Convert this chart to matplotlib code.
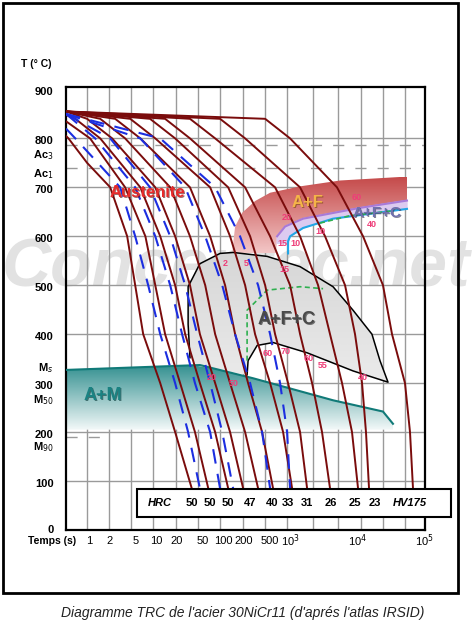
import matplotlib
matplotlib.use("Agg")
import matplotlib.pyplot as plt
import numpy as np
from matplotlib.patches import Polygon, Rectangle

plt.rcParams['font.family'] = ['Liberation Sans', 'DejaVu Sans']

# ---------------- data ----------------
red_curves = [
    ([0.45, 0.49, 0.93, 2.06, 3.69, 4.86, 6.4, 11.5, 19.2, 34], [805, 800, 750, 700, 600, 500, 400, 300, 200, 85]),
    ([0.45, 1.03, 3.44, 6.9, 9.7, 13.6, 22.8, 38, 60], [835, 800, 700, 600, 500, 400, 300, 200, 85]),
    ([0.45, 0.62, 1.46, 5.8, 11.5, 19.2, 27.1, 45, 76, 119], [848, 840, 800, 700, 600, 500, 400, 300, 200, 85]),
    ([0.45, 0.93, 2.2, 9.7, 19.2, 32, 45, 76, 127, 199], [855, 840, 800, 700, 600, 500, 400, 300, 200, 85]),
    ([0.45, 1.46, 3.44, 16.2, 32, 54, 76, 127, 213, 333], [855, 840, 800, 700, 600, 500, 400, 300, 200, 85]),
    ([0.45, 2.44, 5.8, 32, 64, 107, 151, 236, 382, 557], [855, 840, 800, 700, 600, 500, 400, 300, 200, 85]),
    ([0.45, 4.1, 9.7, 64, 127, 213, 300, 503, 787, 1072], [855, 840, 800, 700, 600, 500, 400, 300, 200, 85]),
    ([0.45, 8.1, 19.2, 119, 253, 424, 597, 933, 1410, 1795], [855, 840, 800, 700, 600, 500, 400, 300, 200, 85]),
    ([0.45, 13.6, 32, 213, 503, 1000, 1410, 2130, 3000, 3950], [855, 840, 800, 700, 600, 500, 400, 300, 200, 85]),
    ([0.45, 32, 76, 597, 1410, 2620, 3950, 5970, 8410, 10350], [855, 840, 800, 700, 600, 500, 400, 300, 200, 85]),
    ([0.45, 90, 213, 1410, 3330, 6620, 9330, 11880, 13600, 15100], [855, 840, 800, 700, 600, 500, 400, 300, 200, 85]),
    ([0.45, 424, 1000, 5020, 12300, 24400, 33300, 52000, 61800, 68500], [855, 840, 800, 700, 600, 500, 400, 300, 200, 85]),
]
blue_curves = [
    ([0.45, 0.62, 2.9, 4.86, 7.6, 11.5, 19.2, 30, 45], [820, 800, 700, 600, 500, 400, 300, 200, 85]),
    ([0.45, 1.23, 4.86, 9.7, 16.2, 24.4, 38, 64, 90], [850, 800, 700, 600, 500, 400, 300, 200, 85]),
    ([0.45, 2.06, 8.1, 16.2, 27.1, 41, 64, 97, 141], [850, 800, 700, 600, 500, 400, 300, 200, 85]),
    ([0.45, 5.8, 27.1, 54, 97, 151, 253, 382, 503], [850, 800, 700, 600, 500, 400, 300, 200, 85]),
    ([0.45, 11.5, 76, 179, 333, 503, 709, 902, 1000], [850, 800, 700, 600, 500, 400, 300, 200, 85]),
]

af_t = [136, 151, 192, 300, 503, 1410, 5600, 55700, 55700, 11000, 1563, 842, 640, 620]
af_T = [565, 620, 648, 672, 689, 702, 714, 722, 673, 658, 636, 620, 600, 565]
afc_top_t = [640, 842, 1563, 11000, 55700]
afc_top_T = [600, 620, 636, 658, 673]
cyan_t = [933, 933, 1000, 1563, 4380, 55700]
cyan_T = [565, 590, 600, 617, 636, 656]
green_up_t = [2800, 7800, 34400]
green_up_T = [627, 642, 652]
green_lo_t = [228, 228, 454, 1410, 3110]
green_lo_T = [346, 449, 490, 497, 493]
gray_t = [32, 30, 30, 45, 90, 141, 454, 1410, 4380, 8710, 16700, 22000, 29000,
          8710, 1795, 557, 322, 236, 228, 42]
gray_T = [352, 420, 497, 544, 565, 567, 559, 538, 497, 449, 400, 346, 302,
          325, 362, 383, 377, 346, 317, 335]
ms_t = [0.45, 45, 280, 4380, 24400, 34400]
ms_T = [327, 337, 310, 265, 242, 217]

grid_t = [0.93, 1.99, 4.24, 9.0, 19.9, 42, 90, 199, 424, 902, 2200, 5200, 11400, 24400, 52000]
grid_T = [100, 200, 300, 400, 500, 600, 700, 800]
ytick_vals = [0, 100, 200, 300, 400, 500, 600, 700, 800, 900]
xtick_t = [1, 2, 5, 10, 20, 50, 100, 200, 500, 1000, 10000, 100000]
xtick_lab = ['1', '2', '5', '10', '20', '50', '100', '200', '500', r'10$^3$', r'10$^4$', r'10$^5$']
ac3, ac1 = 787, 739
ms_lab, m50_lab, m90_lab = 331, 265, 169

hard_t = [34, 64, 119, 253, 538, 933, 1795, 4090, 9330, 18600]
hard_v = ['50', '50', '50', '47', '40', '33', '31', '26', '25', '23']

pink_labels = [("20", 900, 638), ("60", 10000, 679), ("40", 16600, 625), ("10", 2800, 609),
               ("15", 780, 586), ("10", 1200, 586), ("2", 107, 545), ("5", 220, 545),
               ("15", 820, 532), ("60", 470, 360), ("70", 870, 364), ("60", 1900, 350),
               ("55", 3100, 337), ("40", 12000, 311), ("20", 68, 311), ("50", 145, 300)]

# ---------------- figure ----------------
W, H = 474, 629
fig = plt.figure(figsize=(W / 100, H / 100), dpi=100)
fig.patch.set_facecolor('white')
fig.add_artist(Rectangle((3 / W, 1 - 593 / H), 455 / W, 590 / H, transform=fig.transFigure,
                         fill=False, ec='black', lw=2))

ax = fig.add_axes([66 / W, 1 - 530 / H, 359 / W, 443 / H])
ax.set_xscale('log')
ax.set_xlim(0.45, 1.035e5)
ax.set_ylim(0, 905)
ax.set_xticks([]); ax.set_yticks([])
ax.minorticks_off()
ax.patch.set_alpha(0)
for s in ax.spines.values():
    s.set_linewidth(1.6)

# watermark (behind the axes)
fig.text(236 / W, 1 - 268 / H, "Conceptec.net", fontsize=49, fontweight='bold', style='italic',
         color='#e2e2e2', ha='center', va='center', zorder=-5)
ax.set_zorder(1)

for t in grid_t:
    ax.axvline(t, color='#9a9a9a', lw=1, zorder=0)
for T in grid_T:
    ax.axhline(T, color='#9a9a9a', lw=1, zorder=0)
ax.axhline(ac3, color='#9a9a9a', lw=1, dashes=(8, 8), zorder=0)
ax.axhline(ac1, color='#9a9a9a', lw=1, dashes=(8, 8), zorder=0)
ax.plot([0.45, 1.5], [190, 190], color='#9a9a9a', lw=1, dashes=(8, 8), zorder=0)

def grad_fill(poly_t, poly_T, top_col, bot_col, y0, y1, z):
    poly = Polygon(list(zip(poly_t, poly_T)), closed=True, transform=ax.transData,
                   fc='none', ec='none')
    ax.add_patch(poly)
    c0 = np.array(matplotlib.colors.to_rgb(top_col))
    c1 = np.array(matplotlib.colors.to_rgb(bot_col))
    f = np.linspace(0, 1, 200)[:, None]
    img = (c0 * (1 - f) + c1 * f)[:, None, :]
    im = ax.imshow(img, extent=[0.45, 1.035e5, y0, y1], origin='upper', aspect='auto',
                   zorder=z, interpolation='bilinear')
    im.set_clip_path(poly)

am_t = ms_t + [ms_t[-1], 0.45]
am_T = ms_T + [205, 205]
grad_fill(am_t, am_T, '#2f8e8e', '#f2f8f8', 205, 340, 1)
ax.plot(ms_t, ms_T, color='#107a78', lw=1.5, zorder=3)

grad_fill(gray_t, gray_T, '#d6d6d6', '#ebebeb', 300, 570, 1)
ax.plot(gray_t[:19], gray_T[:19], color='black', lw=1.1, zorder=3)

grad_fill(af_t, af_T, '#c44848', '#f3c6c6', 565, 722, 1)
pur_t = afc_top_t + cyan_t[::-1][:4] + [933, 640]
pur_T = afc_top_T + cyan_T[::-1][:4] + [585, 586]
ax.fill(pur_t, pur_T, color='#dccaf0', zorder=1.5)
ax.plot(afc_top_t, afc_top_T, color='#a77ad8', lw=1.5, zorder=3)
ax.plot(cyan_t, cyan_T, color='#22a6e6', lw=1.5, zorder=3)
ax.plot(green_up_t, green_up_T, color='#2fb050', lw=1.2, ls=(0, (3, 2)), zorder=3)
ax.plot(green_lo_t, green_lo_T, color='#2fb050', lw=1.2, ls=(0, (3, 2)), zorder=3)

for t, T in red_curves:
    ax.plot(t, T, color='#7a0c0c', lw=1.4, zorder=4, solid_capstyle='round', solid_joinstyle='round')
for t, T in blue_curves:
    ax.plot(t, T, color='#1c2ee0', lw=1.5, ls=(0, (7, 5)), zorder=4)

def shadow_text(x, y, s, col, size, shadow='#5a1010'):
    ax.text(x, y, s, color=shadow, fontsize=size, fontweight='bold', ha='center', va='center',
            zorder=5, alpha=0.6,
            transform=ax.transData + matplotlib.transforms.ScaledTranslation(1 / 100, -1 / 100, fig.dpi_scale_trans))
    ax.text(x, y, s, color=col, fontsize=size, fontweight='bold', ha='center', va='center', zorder=6)

shadow_text(7.3, 690, "Austenite", '#e82a2a', 12)
shadow_text(1800, 669, "A+F", '#f5b448', 12, '#7a4a10')
shadow_text(20000, 648, "A+F+C", '#7070b0', 11, '#303050')
shadow_text(900, 431, "A+F+C", '#4a4a4a', 13, '#202020')
shadow_text(1.6, 275, "A+M", '#1a8282', 13, '#0a3a3a')
for s, t, T in pink_labels:
    ax.text(t, T, s, color='#ee3d78', fontsize=6.5, fontweight='bold', ha='center', va='center', zorder=6)

fig.add_artist(Rectangle((137 / W, 1 - 517 / H), 314 / W, 28 / H, transform=fig.transFigure,
                         fc='white', ec='black', lw=1.5, zorder=7))
bt = matplotlib.transforms.blended_transform_factory(ax.transData, fig.transFigure)
yb = 1 - 503 / H
fig.text(160 / W, yb, "HRC", fontsize=8, fontweight='bold', style='italic', ha='center', va='center', zorder=8)
for t, v in zip(hard_t, hard_v):
    fig.text(t, yb, v, transform=bt, fontsize=8, fontweight='bold', ha='center', va='center', zorder=8)
fig.text(410 / W, yb, "HV175", fontsize=8, fontweight='bold', style='italic', ha='center', va='center', zorder=8)

fig.text(36 / W, 1 - 64 / H, "T (° C)", fontsize=7.5, fontweight='bold', ha='center', va='center')
for v in ytick_vals:
    ax.text(-0.035, v - 6 if v > 0 else v, str(v), transform=ax.get_yaxis_transform(),
            fontsize=8, fontweight='bold', ha='right', va='center')
for s, v in [("Ac$_3$", 765), ("Ac$_1$", 727), ("M$_s$", ms_lab), ("M$_{50}$", m50_lab), ("M$_{90}$", m90_lab)]:
    ax.text(-0.035, v, s, transform=ax.get_yaxis_transform(), fontsize=8, fontweight='bold',
            ha='right', va='center')
fig.text(52 / W, 1 - 541 / H, "Temps (s)", fontsize=7.5, fontweight='bold', ha='center', va='center')
for t, l in zip(xtick_t, xtick_lab):
    ax.text(t, -0.025, l, transform=ax.get_xaxis_transform(), fontsize=8, ha='center', va='center')

fig.text(243 / W, 1 - 613 / H, "Diagramme TRC de l'acier 30NiCr11 (d'aprés l'atlas IRSID)",
         fontsize=10, style='italic', ha='center', va='center', color='#222222')

fig.savefig("out.png", dpi=100)
